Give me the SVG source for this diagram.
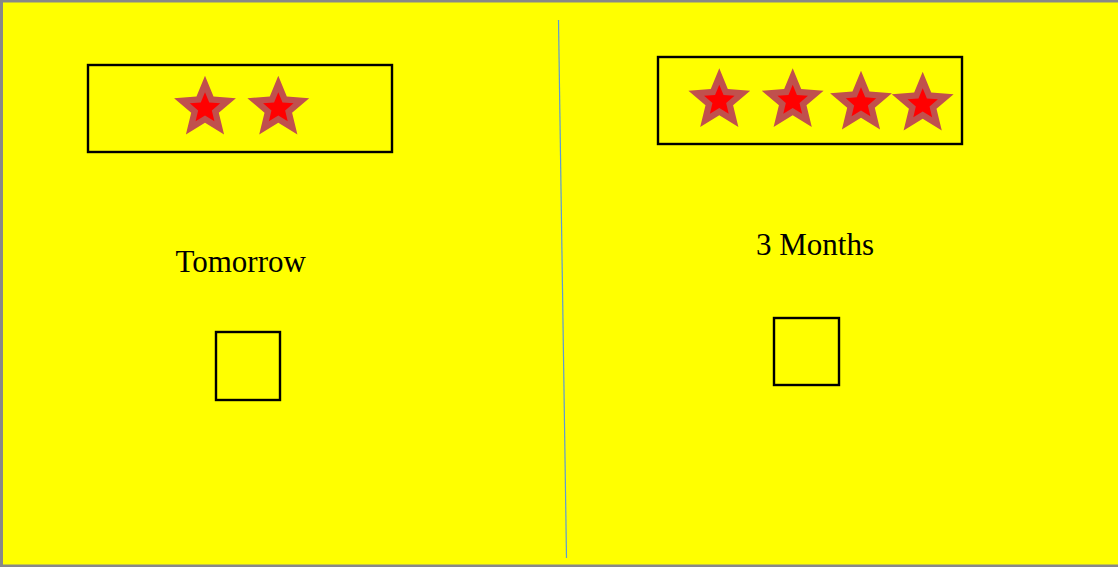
<svg xmlns="http://www.w3.org/2000/svg" xmlns:xlink="http://www.w3.org/1999/xlink" width="1118" height="567" viewBox="0 0 1118 567">
<style>
.box{fill:none;stroke:#000;stroke-width:2.4}
.lbl{font-family:"Liberation Serif","Times New Roman",serif;font-size:31px;fill:#000;text-anchor:middle}
.outer{fill:#C0504D}
.inner{fill:#FF0000}
</style>
<defs>
<g id="star">
<polygon class="outer" points="0,-32.5 8.52,-11.73 30.91,-10.04 13.79,4.48 19.1,26.29 0,14.5 -19.1,26.29 -13.79,4.48 -30.91,-10.04 -8.52,-11.73"/>
<polygon class="inner" points="0,-16 4.23,-5.83 15.22,-4.94 6.85,2.22 9.4,12.94 0,7.2 -9.4,12.94 -6.85,2.22 -15.22,-4.94 -4.23,-5.83"/>
</g>
</defs>
<rect x="0" y="0" width="1118" height="567" fill="#888888"/>
<rect x="3" y="2.5" width="1115" height="562" fill="#FFFF00"/>
<g id="connectors">
<line x1="558.5" y1="20" x2="566.5" y2="558" stroke="#5B9BD5" stroke-width="1.2"/>
</g>
<g id="left-stars">
<rect class="box" x="88" y="65" width="304" height="87"/>
<use xlink:href="#star" x="205" y="108.3"/>
<use xlink:href="#star" x="278.3" y="108.3"/>
</g>
<g id="left-label">
<text class="lbl" x="240.7" y="272">Tomorrow</text>
</g>
<g id="left-box">
<rect class="box" x="216" y="332" width="64" height="68"/>
</g>
<g id="right-stars">
<rect class="box" x="658" y="57" width="304" height="87"/>
<use xlink:href="#star" x="719.3" y="100.8"/>
<use xlink:href="#star" x="792.7" y="100.8"/>
<use xlink:href="#star" x="861" y="103.2"/>
<use xlink:href="#star" x="922.7" y="104.3"/>
</g>
<g id="right-label">
<text class="lbl" x="815" y="255">3 Months</text>
</g>
<g id="right-box">
<rect class="box" x="774" y="318" width="65" height="67"/>
</g>
</svg>
